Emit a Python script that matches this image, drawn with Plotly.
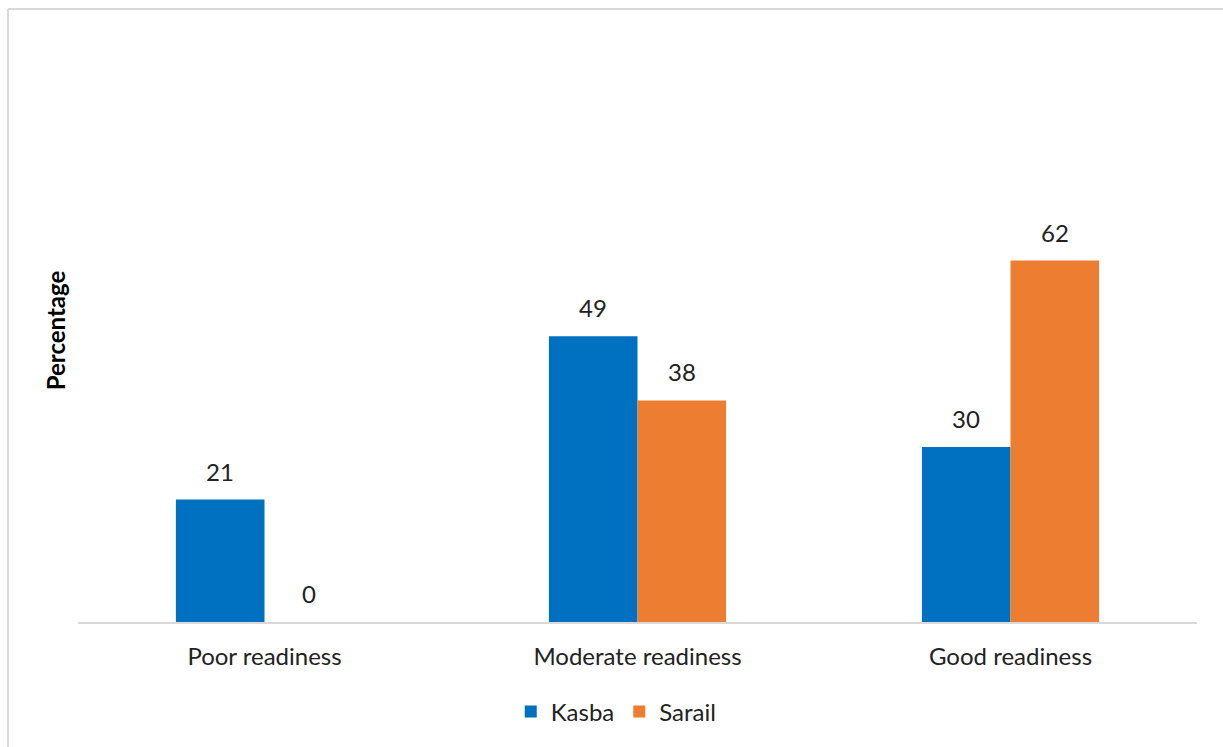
import plotly.graph_objects as go

categories = ["Poor readiness", "Moderate readiness", "Good readiness"]
kasba = [21, 49, 30]
sarail = [0, 38, 62]
series_names = ["Kasba", "Sarail"]
colors = ["#0070C0", "#ED7D31"]

FONT = "Lato, 'Open Sans', sans-serif"
FS = 24
W, H = 1223, 747
L, R, T, B = 78, 26, 39, 125

fig = go.Figure()
for name, vals, col in zip(series_names, [kasba, sarail], colors):
    fig.add_trace(go.Bar(name=name, x=categories, y=vals, marker_color=col,
                         marker_line_width=0))

# data labels
plot_w = W - L - R
bar_w = plot_w / 3 * (1 - 0.525) / 2
for i, vals in enumerate([kasba, sarail]):
    shift = (-bar_w / 2) if i == 0 else (bar_w / 2)
    for c, v in zip(categories, vals):
        fig.add_annotation(x=c, y=v, xref="x", yref="y", text=str(v),
                           showarrow=False, xshift=shift, yshift=12,
                           yanchor="bottom",
                           font=dict(family=FONT, size=FS, color="#222222"))

# chart border (top and left visible)
x0 = (8 - L) / plot_w
y0 = (H - B - 9) / (H - T - B)
fig.add_shape(type="line", xref="paper", yref="paper", x0=x0, x1=1.05, y0=y0, y1=y0,
              line=dict(color="#d9d9d9", width=2))
fig.add_shape(type="line", xref="paper", yref="paper", x0=x0, x1=x0, y0=y0, y1=-0.3,
              line=dict(color="#d9d9d9", width=2))

fig.update_layout(
    width=W, height=H,
    margin=dict(l=L, r=R, t=T, b=B),
    paper_bgcolor="white", plot_bgcolor="white",
    barmode="group", bargap=0.525, bargroupgap=0,
    font=dict(family=FONT, size=FS, color="#222222"),
    legend=dict(orientation="h", x=0.481, xanchor="center", y=-0.154, yanchor="middle",
                font=dict(family=FONT, size=FS, color="#222222"), itemwidth=30,
                traceorder="normal"),
    xaxis=dict(showline=True, linecolor="#d9d9d9", linewidth=2, ticks="",
               ticklabelstandoff=12, tickfont=dict(size=FS), showgrid=False),
    yaxis=dict(range=[0, 100], showticklabels=False, showgrid=False, zeroline=False,
               showline=False, automargin=False,
               title=dict(text="<b>Percentage</b>", standoff=4,
                          font=dict(family=FONT, size=FS, color="#000000"))),
)

fig.write_html("out.html")
